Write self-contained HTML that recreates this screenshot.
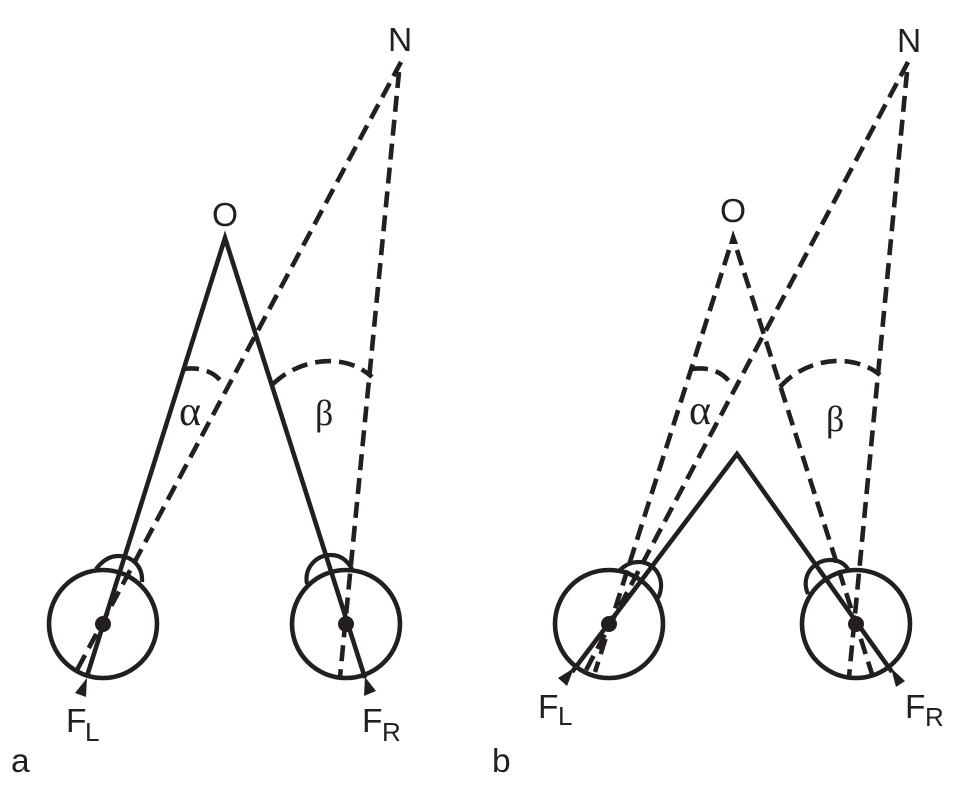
<!DOCTYPE html>
<html>
<head>
<meta charset="utf-8">
<style>
html,body{margin:0;padding:0;background:#fff;}
svg{display:block;}
text{font-family:"Liberation Sans",sans-serif;fill:#231f20;font-size:33.5px;}
.g{font-family:"Liberation Serif",serif;font-size:36px;}
.a{font-family:"Liberation Serif",serif;font-size:42px;}
.s{font-size:26px;}
.l{fill:none;stroke:#231f20;stroke-width:4.6;}
.t{fill:none;stroke:#231f20;stroke-width:4.2;}
.d{fill:none;stroke:#231f20;stroke-width:4.6;stroke-dasharray:16 8;}
.f{fill:#231f20;stroke:none;}
</style>
</head>
<body>
<svg width="963" height="791" viewBox="0 0 963 791" xmlns="http://www.w3.org/2000/svg">
<!-- Panel a -->
<circle class="l" cx="103" cy="624" r="54"/>
<circle class="l" cx="346" cy="624" r="54"/>
<circle class="f" cx="103" cy="624" r="8"/>
<circle class="f" cx="346" cy="624" r="8"/>
<path class="t" d="M96 569 C103 560 110 556 118 556 C132 556 143 566 142 582"/>
<path class="t" d="M307 584 C304 568 316 555 331 555 C340 555 347 560 352 569"/>
<path class="l" d="M87 676 L225 238 L365 678"/>
<path class="f" d="M225 233 L221 246 L229 246 Z"/>
<path class="f" d="M87 678 L75 693 L86 697 Z"/>
<path class="f" d="M365 677 L364 696 L376 691 Z"/>
<path class="d" d="M401 62 L76 672"/>
<path class="d" d="M399 72 L340 677"/>
<path class="d" d="M183 369 C198 367 214 370 223 384"/>
<path class="d" d="M273 384 C300 358 345 352 372 377"/>
<text x="388" y="51">N</text>
<text x="212" y="226">O</text>
<text class="a" x="179" y="425">α</text>
<text class="g" x="315" y="425">β</text>
<text x="66" y="732">F</text><text class="s" x="85" y="741">L</text>
<text x="362" y="732">F</text><text class="s" x="382" y="741">R</text>
<text x="11" y="772">a</text>
<!-- Panel b -->
<circle class="l" cx="609" cy="624" r="54"/>
<circle class="l" cx="856" cy="624" r="54"/>
<circle class="f" cx="609" cy="624" r="8"/>
<circle class="f" cx="856" cy="624" r="8"/>
<path class="t" d="M620 570 C626 564 632 562 639 562 C655 562 667 580 658 598"/>
<path class="t" d="M808 594 C800 576 814 560 830 560 C838 560 844 563 848 569"/>
<path class="l" d="M572 672 L737 454 L892 672"/>
<path class="f" d="M574 668 L558 678 L567 686 Z"/>
<path class="f" d="M891 668 L905 681 L896 687 Z"/>
<path class="f" d="M733 230 L729 244 L738 244 Z"/>
<path class="d" d="M908 62 L585 672"/>
<path class="d" d="M907 72 L849 677"/>
<path class="d" d="M729 250 L595 672"/>
<path class="d" d="M737 250 L872 674"/>
<path class="d" d="M692 369 C706 367 722 370 731 384"/>
<path class="d" d="M780 387 C806 358 852 352 880 375"/>
<text x="897" y="52">N</text>
<text x="720" y="222">O</text>
<text class="a" x="689" y="424">α</text>
<text class="g" x="826" y="431">β</text>
<text x="538" y="718">F</text><text class="s" x="558" y="725">L</text>
<text x="905" y="718">F</text><text class="s" x="925" y="726">R</text>
<text x="492" y="772">b</text>
</svg>
</body>
</html>
